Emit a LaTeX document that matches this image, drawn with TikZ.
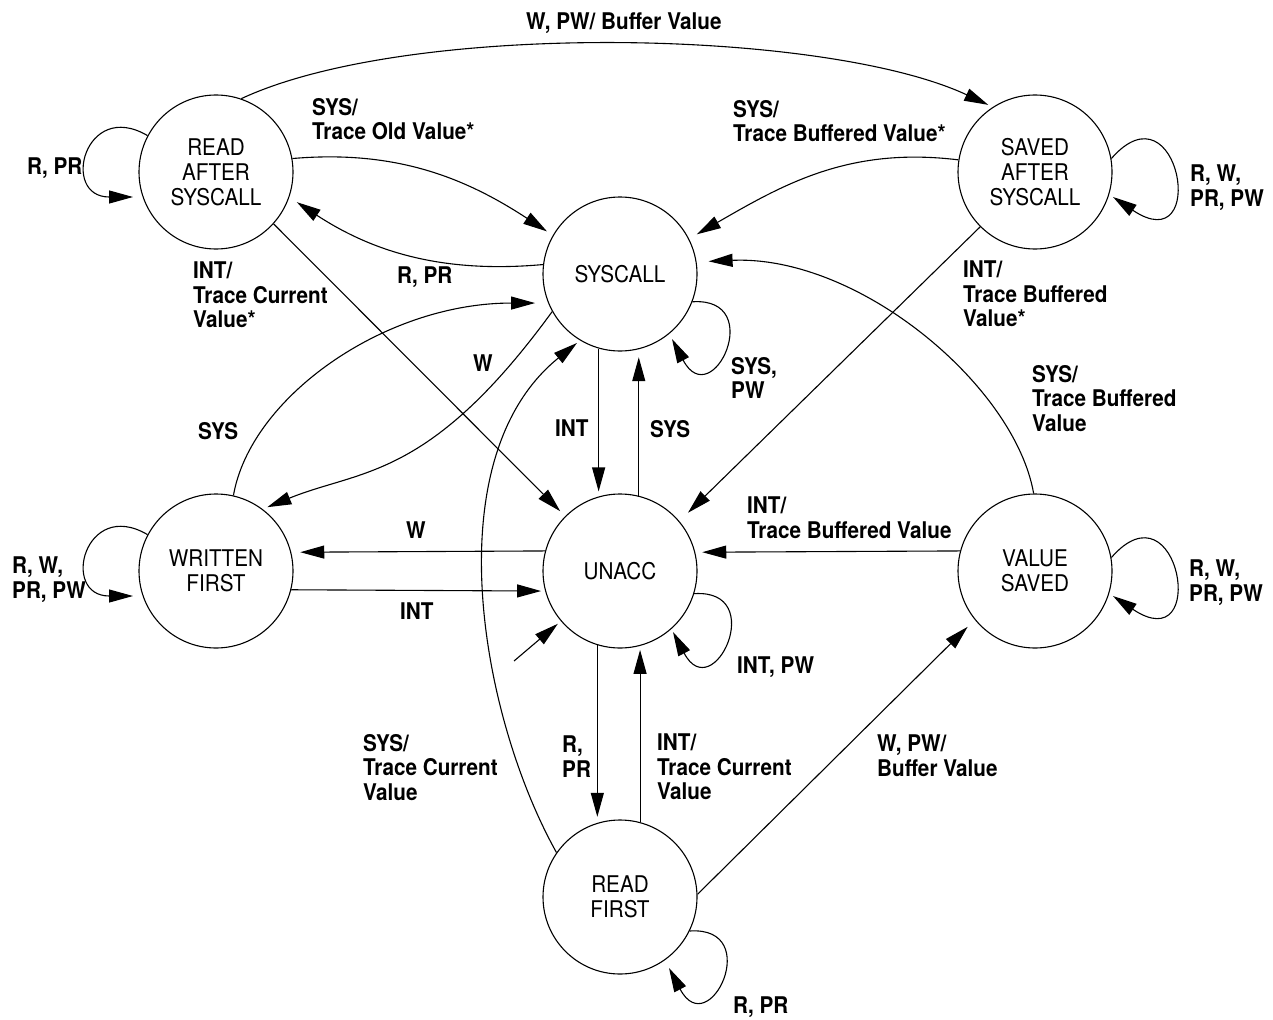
\documentclass[tikz,border=0pt]{standalone}
\usepackage{fontspec}
\setmainfont{TeX Gyre Heros}[FakeStretch=0.9]
\usetikzlibrary{arrows.meta}
\begin{document}
\begin{tikzpicture}[x=1pt,y=1pt,
  state/.style={circle, draw, line width=1.1pt, minimum size=154pt, inner sep=0pt,
    align=center, font=\fontsize{23}{25}\selectfont},
  lbl/.style={anchor=north west, inner sep=0pt, align=left,
    font=\fontsize{23}{24.5}\selectfont\bfseries},
  arr/.style={line width=1.1pt, -{Triangle[length=24pt,width=13pt]}},
]
\useasboundingbox (0,0) rectangle (1273,-1019);

% states
\node[state] (ras) at (216,-172)  {READ\\AFTER\\SYSCALL};
\node[state] (sas) at (1035,-172) {SAVED\\AFTER\\SYSCALL};
\node[state] (sys) at (620,-274)  {SYSCALL};
\node[state] (wf)  at (216,-571)  {WRITTEN\\FIRST};
\node[state] (un)  at (620,-571)  {UNACC};
\node[state] (vs)  at (1035,-571) {VALUE\\SAVED};
\node[state] (rf)  at (620,-897)  {READ\\FIRST};
\coordinate (init) at (514,-661);

% self loops
\draw[arr] (ras.152) .. controls +(-63,37) and +(-73,0) .. ([shift={(-83,-25)}]ras.center);
\draw[arr] (wf.152) .. controls +(-63,37) and +(-73,0) .. ([shift={(-83,-25)}]wf.center);
\draw[arr] (sas.10) .. controls +(68,78) and +(97,-65) .. ([shift={(78,-25)}]sas.center);
\draw[arr] (vs.10) .. controls +(68,78) and +(97,-65) .. ([shift={(78,-25)}]vs.center);
\draw[arr] (sys.-21) .. controls +(75,5) and +(40,-76) .. ([shift={(52,-65)}]sys.center);
\draw[arr] (un.-17) .. controls +(75,5) and +(40,-76) .. ([shift={(53,-61)}]un.center);
\draw[arr] (rf.-26) .. controls +(75,5) and +(40,-76) .. ([shift={(49,-71)}]rf.center);

% curved transitions
\draw[arr, shorten >=5pt] (ras.71) to[out=25, in=155, looseness=0.63] (sas.123);
\draw[arr, shorten >=7pt] (ras.10) .. controls +(104,9) and +(-87,57) .. (sys.150);
\draw[arr, shorten >=9pt] (sys.173) .. controls +(-100,-9) and +(84,-55) .. (ras.-19);
\draw[arr, shorten >=9pt] (sas.171) to[out=173, in=30] (sys.27);
\draw[arr, shorten >=5pt] (sys.209) .. controls +(-123,-169) and +(98,40) .. (wf.53);
\draw[arr, shorten >=13pt] (wf.77) .. controls +(17,98) and +(-164,0) .. (sys.202);
\draw[arr, shorten >=12pt] (vs.91) .. controls +(-19,108) and +(162,7) .. (sys.9);
\draw[arr, shorten >=4pt] (rf.145) .. controls +(-76,136) and +(-146,-118) .. (sys.239);

% straight transitions
\draw[arr, shorten >=7pt] (ras.-42) -- (un.135);
\draw[arr, shorten >=12pt] (sas.225) -- (un.40);
\draw[arr, shorten >=5pt] (sys.-106) -- (un.106);
\draw[arr, shorten >=8pt] (un.76.5) -- (sys.-76.5);
\draw[arr, shorten >=6pt] (un.-107.4) -- (rf.107.4);
\draw[arr, shorten >=4pt] (rf.75.7) -- (un.-75.7);
\draw[arr, shorten >=9pt] (un.165.7) -- (wf.14.3);
\draw[arr, shorten >=4pt] (wf.-14.3) -- (un.-165.7);
\draw[arr, shorten >=7pt] (vs.165.7) -- (un.14.3);
\draw[arr, shorten >=10pt] (rf.2) -- (vs.219);
\draw[arr, shorten >=4pt] (init) -- (un);

% transition labels
\node[lbl] (t1)  at (27,-158)   {R, PR};
\node[lbl] (t2)  at (526,-13)   {W, PW/ Buffer Value};
\node[lbl] (t3)  at (312,-98)   {SYS/\\Trace Old Value*};
\node[lbl] (t4)  at (733,-100)  {SYS/\\Trace Buffered Value*};
\node[lbl] (t5)  at (1190,-165) {R, W,\\PR, PW};
\node[lbl] (t6)  at (397,-267)  {R, PR};
\node[lbl] (t7)  at (193,-262)  {INT/\\Trace Current\\Value*};
\node[lbl] (t8)  at (963,-261)  {INT/\\Trace Buffered\\Value*};
\node[lbl] (t9)  at (473,-355)  {W};
\node[lbl] (t10) at (198,-422)  {SYS};
\node[lbl] (t11) at (555,-420)  {INT};
\node[lbl] (t12) at (650,-420)  {SYS};
\node[lbl] (t13) at (731,-357)  {SYS,\\PW};
\node[lbl] (t14) at (1032,-365) {SYS/\\Trace Buffered\\Value};
\node[lbl] (t15) at (406,-522)  {W};
\node[lbl] (t16) at (400,-603)  {INT};
\node[lbl] (t17) at (747,-497)  {INT/\\Trace Buffered Value};
\node[lbl] (t18) at (1189,-560) {R, W,\\PR, PW};
\node[lbl] (t19) at (12,-557)   {R, W,\\PR, PW};
\node[lbl] (t20) at (737,-657)  {INT, PW};
\node[lbl] (t21) at (363,-734)  {SYS/\\Trace Current\\Value};
\node[lbl] (t22) at (562,-736)  {R,\\PR};
\node[lbl] (t23) at (657,-734)  {INT/\\Trace Current\\Value};
\node[lbl] (t24) at (877,-735)  {W, PW/\\Buffer Value};
\node[lbl] (t25) at (733,-997)  {R, PR};
\end{tikzpicture}
\end{document}
